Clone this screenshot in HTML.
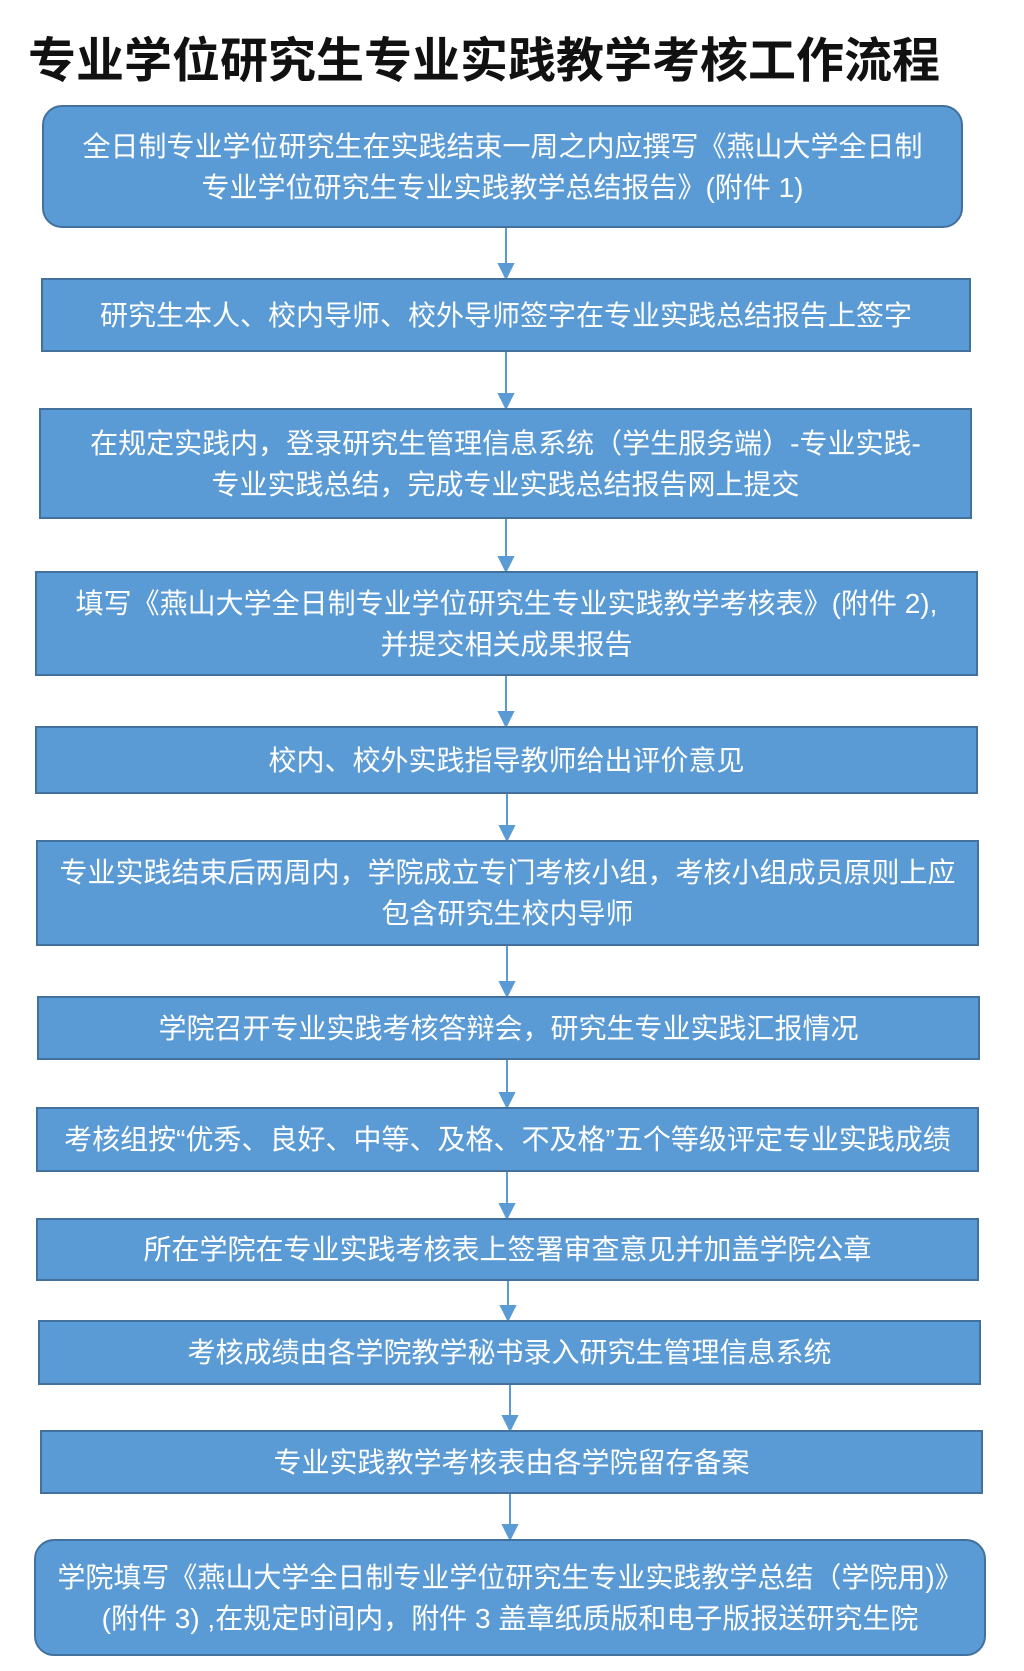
<!DOCTYPE html>
<html><head><meta charset="utf-8"><style>
html,body{margin:0;padding:0;background:#fff;}
body{width:1024px;height:1671px;position:relative;overflow:hidden;font-family:"Liberation Sans","Noto Sans CJK SC",sans-serif;}
.t{position:absolute;left:28px;top:21px;font-size:48px;font-weight:bold;color:#111;white-space:nowrap;letter-spacing:0px;}
.b{position:absolute;box-sizing:border-box;background:#5b9bd5;border:2px solid #41719c;color:#fff;font-size:28px;line-height:41px;display:flex;align-items:center;justify-content:center;text-align:center;white-space:nowrap;flex-direction:column;}
.r{border-radius:20px;}
svg{position:absolute;left:0;top:0;}
</style></head><body>
<div class="t">专业学位研究生专业实践教学考核工作流程</div>
<svg width="1024" height="1671">
<g stroke="#5b9bd5" stroke-width="2" fill="#5b9bd5">
<line x1="506" y1="228" x2="506" y2="268"/><polygon points="499,264 513,264 506,278"/>
<line x1="506" y1="352" x2="506" y2="398"/><polygon points="499,394 513,394 506,408"/>
<line x1="506" y1="519" x2="506" y2="561"/><polygon points="499,557 513,557 506,571"/>
<line x1="506" y1="676" x2="506" y2="716"/><polygon points="499,712 513,712 506,726"/>
<line x1="507" y1="794" x2="507" y2="830"/><polygon points="500,826 514,826 507,840"/>
<line x1="507" y1="946" x2="507" y2="986"/><polygon points="500,982 514,982 507,996"/>
<line x1="507" y1="1060" x2="507" y2="1097"/><polygon points="500,1093 514,1093 507,1107"/>
<line x1="507" y1="1172" x2="507" y2="1208"/><polygon points="500,1204 514,1204 507,1218"/>
<line x1="508" y1="1281" x2="508" y2="1310"/><polygon points="501,1306 515,1306 508,1320"/>
<line x1="510" y1="1385" x2="510" y2="1420"/><polygon points="503,1416 517,1416 510,1430"/>
<line x1="510" y1="1494" x2="510" y2="1529"/><polygon points="503,1525 517,1525 510,1539"/>
</g></svg>
<div class="b r" style="left:42px;top:105px;width:921px;height:123px;"><div>全日制专业学位研究生在实践结束一周之内应撰写《燕山大学全日制</div><div>专业学位研究生专业实践教学总结报告》(附件 1)</div></div>
<div class="b" style="left:41px;top:278px;width:930px;height:74px;">研究生本人、校内导师、校外导师签字在专业实践总结报告上签字</div>
<div class="b" style="left:39px;top:408px;width:933px;height:111px;"><div>在规定实践内，登录研究生管理信息系统（学生服务端）-专业实践-</div><div>专业实践总结，完成专业实践总结报告网上提交</div></div>
<div class="b" style="left:35px;top:571px;width:943px;height:105px;"><div>填写《燕山大学全日制专业学位研究生专业实践教学考核表》(附件 2),</div><div>并提交相关成果报告</div></div>
<div class="b" style="left:35px;top:726px;width:943px;height:68px;">校内、校外实践指导教师给出评价意见</div>
<div class="b" style="left:36px;top:840px;width:943px;height:106px;"><div>专业实践结束后两周内，学院成立专门考核小组，考核小组成员原则上应</div><div>包含研究生校内导师</div></div>
<div class="b" style="left:37px;top:996px;width:943px;height:64px;">学院召开专业实践考核答辩会，研究生专业实践汇报情况</div>
<div class="b" style="left:36px;top:1107px;width:943px;height:65px;">考核组按“优秀、良好、中等、及格、不及格”五个等级评定专业实践成绩</div>
<div class="b" style="left:36px;top:1218px;width:943px;height:63px;">所在学院在专业实践考核表上签署审查意见并加盖学院公章</div>
<div class="b" style="left:38px;top:1320px;width:943px;height:65px;">考核成绩由各学院教学秘书录入研究生管理信息系统</div>
<div class="b" style="left:40px;top:1430px;width:943px;height:64px;">专业实践教学考核表由各学院留存备案</div>
<div class="b r" style="left:34px;top:1539px;width:952px;height:117px;"><div>学院填写《燕山大学全日制专业学位研究生专业实践教学总结（学院用)》</div><div>(附件 3) ,在规定时间内，附件 3 盖章纸质版和电子版报送研究生院</div></div>
</body></html>
